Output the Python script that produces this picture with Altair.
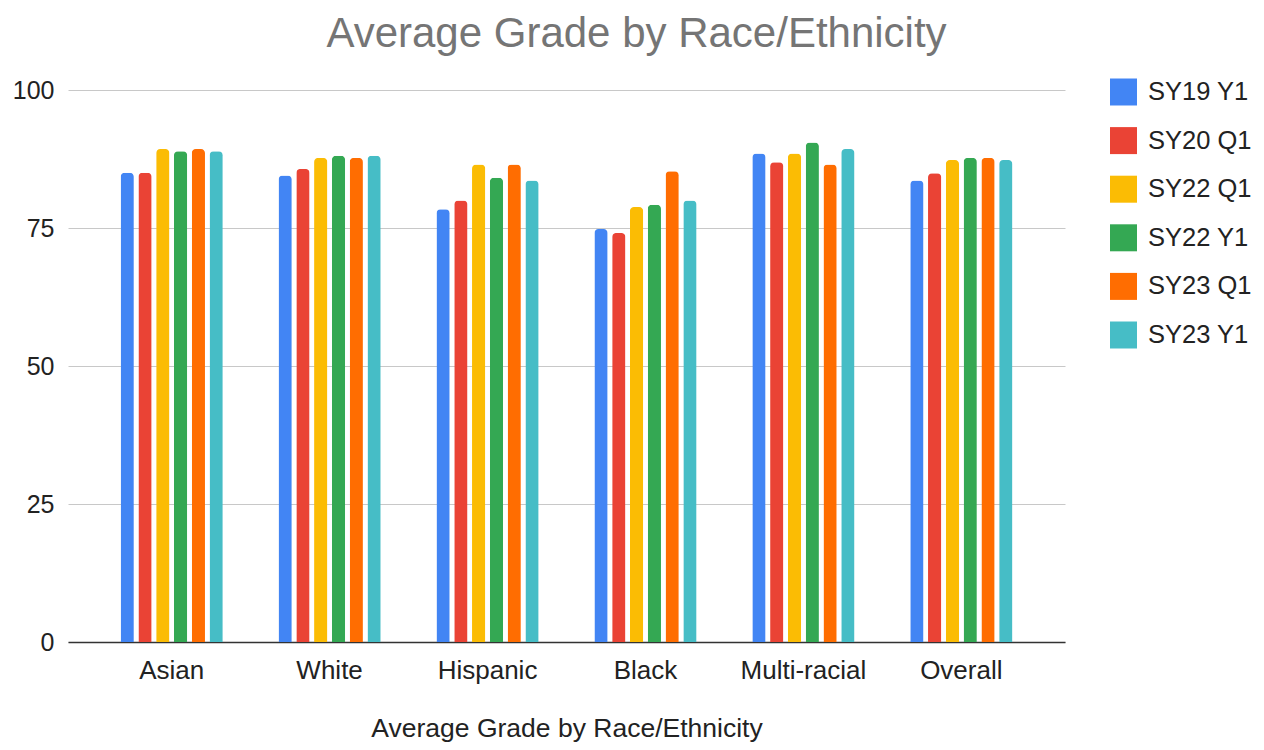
import altair as alt
import pandas as pd

categories = ["Asian", "White", "Hispanic", "Black", "Multi-racial", "Overall"]
series = ["SY19 Y1", "SY20 Q1", "SY22 Q1", "SY22 Y1", "SY23 Q1", "SY23 Y1"]
colors = ["#4285F4", "#EA4335", "#FBBC04", "#34A853", "#FF6D01", "#46BDC6"]

sy19_y1 = [85.0, 84.5, 78.4, 74.8, 88.5, 83.6]
sy20_q1 = [85.0, 85.7, 80.0, 74.1, 86.9, 84.9]
sy22_q1 = [89.3, 87.7, 86.5, 78.8, 88.5, 87.3]
sy22_y1 = [88.9, 88.1, 84.1, 79.2, 90.5, 87.7]
sy23_q1 = [89.3, 87.7, 86.5, 85.3, 86.5, 87.7]
sy23_y1 = [88.9, 88.1, 83.6, 80.0, 89.3, 87.3]

values = [sy19_y1, sy20_q1, sy22_q1, sy22_y1, sy23_q1, sy23_y1]
rows = []
for s, vals in zip(series, values):
    for c, v in zip(categories, vals):
        rows.append({"Group": c, "Series": s, "Grade": v})
df = pd.DataFrame(rows)

FONT = "Liberation Sans"

chart = alt.Chart(df).mark_bar(
    cornerRadiusTopLeft=4, cornerRadiusTopRight=4
).encode(
    x=alt.X("Group:N", sort=categories,
            scale=alt.Scale(paddingInner=0.353, paddingOuter=0.333),
            axis=alt.Axis(title="Average Grade by Race/Ethnicity", labelAngle=0,
                          labelFontSize=26, labelColor="#222222", labelFont=FONT,
                          labelPadding=15, ticks=False, domainColor="#333333",
                          domainWidth=1.5, titleFontSize=26.5, titleFont=FONT,
                          titleFontWeight="normal", titleColor="#222222",
                          titlePadding=32)),
    xOffset=alt.XOffset("Series:N", sort=series,
                        scale=alt.Scale(paddingInner=0.255, paddingOuter=0)),
    y=alt.Y("Grade:Q", scale=alt.Scale(domain=[0, 100], nice=False),
            axis=alt.Axis(title=None, values=[0, 25, 50, 75, 100], labelFontSize=25,
                          labelColor="#222222", labelFont=FONT, labelPadding=14,
                          ticks=False, domain=False, gridColor="#c8c8c8",
                          gridWidth=1)),
    color=alt.Color("Series:N", sort=series,
                    scale=alt.Scale(domain=series, range=colors),
                    legend=alt.Legend(title=None, orient="none", legendX=1042,
                                      legendY=-11.5, symbolType="square",
                                      symbolSize=729, symbolStrokeWidth=0,
                                      labelFontSize=25.5, labelFont=FONT,
                                      labelColor="#222222", labelOffset=11,
                                      rowPadding=21.6, padding=0)),
).properties(
    width=997,
    height=552,
    title=alt.TitleParams("Average Grade by Race/Ethnicity", fontSize=42,
                          font=FONT, color="#757575", fontWeight="normal",
                          anchor="middle", dx=70, offset=22),
    autosize=alt.AutoSizeParams(type="none"),
    padding={"left": 60, "top": 82, "right": 191, "bottom": 100},
).configure(background="white").configure_view(strokeWidth=0, stroke="transparent")

chart.save("out.html", embed_options={"renderer": "svg", "actions": False})
